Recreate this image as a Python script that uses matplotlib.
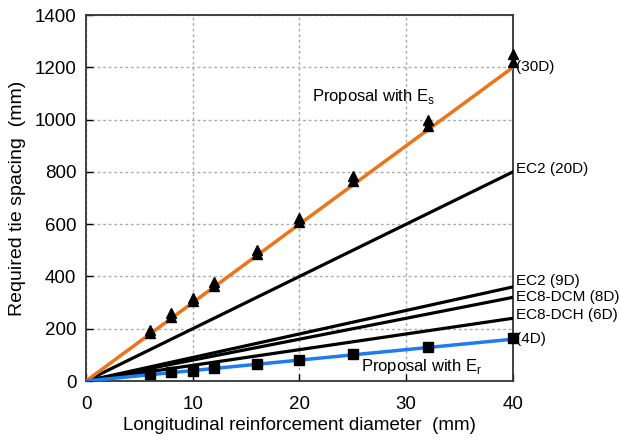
import numpy as np
import matplotlib.pyplot as plt

plt.rcParams['font.family'] = ['Liberation Sans', 'DejaVu Sans']

# diametri (mm)
diam = [6, 8, 10, 12, 16, 20, 25, 32, 40]
# dati proposta con Es (due serie sovrapposte)
es_low = [185, 245, 305, 365, 485, 610, 765, 975, 1220]
es_high = [195, 260, 318, 380, 500, 625, 785, 1000, 1250]
# dati proposta con Er
er_vals = [25, 33, 40, 48, 65, 82, 102, 130, 165]

# rette di normativa: passo = k * D
line_d = [0, 40]
factors = [20, 9, 8, 6]
labels_right = ['EC2 (20D)', 'EC2 (9D)', 'EC8-DCM (8D)', 'EC8-DCH (6D)']
label_y = [811, 382, 321, 252]

fig = plt.figure(figsize=(6.21, 4.42), dpi=100)
ax = fig.add_axes([0.1385, 0.138, 0.6875, 0.828])

for k in factors:
    ax.plot(line_d, [k * d for d in line_d], color='black', lw=2.3, zorder=3)
ax.plot(line_d, [30 * d for d in line_d], color='#ED7418', lw=2.5, zorder=4)
ax.plot(line_d, [4 * d for d in line_d], color='#1F7BF2', lw=2.5, zorder=4)

ax.plot(diam, es_low, '^', color='black', ms=7, zorder=5, clip_on=False)
ax.plot(diam, es_high, '^', color='black', ms=7, zorder=5, clip_on=False)
ax.plot(diam, er_vals, 's', color='black', ms=7.5, zorder=5, clip_on=False)

ax.set_xlim(0, 40)
ax.set_ylim(0, 1400)
ax.set_xticks([0, 10, 20, 30, 40])
ax.set_yticks(range(0, 1401, 200))
ax.tick_params(direction='in', labelsize=13.5, length=5, width=1)
ax.tick_params(axis='x', pad=11)
ax.tick_params(axis='y', pad=7)
ax.grid(True, ls=(0, (2, 2)), color='#aaaaaa', lw=1)
for s in ax.spines.values():
    s.set_linewidth(1.3)
    s.set_color('#333333')

ax.set_xlabel('Longitudinal reinforcement diameter  (mm)', fontsize=13.5, labelpad=3)
ax.set_ylabel('Required tie spacing  (mm)', fontsize=14, labelpad=6)

ax.text(21.2, 1090, 'Proposal with E$_\\mathregular{s}$', fontsize=12, va='center')
ax.text(25.8, 54, 'Proposal with E$_\\mathregular{r}$', fontsize=12, va='center')

ax.text(40.3, 1200, '(30D)', fontsize=11, va='center', clip_on=False)
for lab, y in zip(labels_right, label_y):
    ax.text(40.3, y, lab, fontsize=11, va='center', clip_on=False)
ax.text(40.3, 160, '(4D)', fontsize=11, va='center', clip_on=False)

fig.savefig('out.png', dpi=100)
